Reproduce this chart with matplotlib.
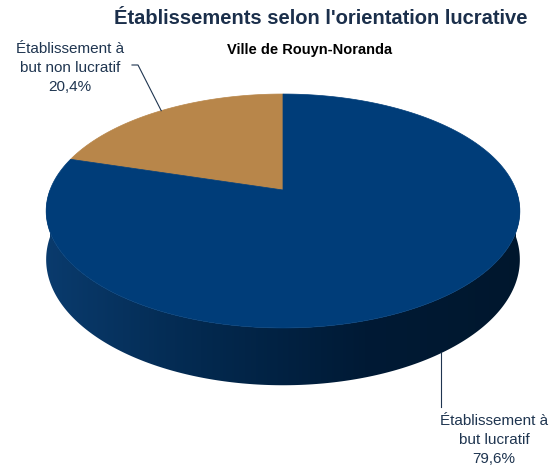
import numpy as np
import matplotlib
matplotlib.use("Agg")
import matplotlib.pyplot as plt
from matplotlib.colors import LinearSegmentedColormap
from matplotlib.patches import Polygon

# data
labels = ["Établissement à\nbut non lucratif", "Établissement à\nbut lucratif"]
shares = [20.4, 79.6]
top_colors = ["#b8864a", "#003d79"]
title = "Établissements selon l'orientation lucrative"
subtitle = "Ville de Rouyn-Noranda"

# 3d pie geometry (pixels), perspective like excel
CX, CY = 283, 190
SX, SY, K = 233, 113.2, 0.1795
DEPTH = 47
START = 90

def proj(phi, z=0.0):
    r = np.radians(phi)
    u, v = np.cos(r), np.sin(r)
    w = 1 + K * v
    return CX + SX * u / w, CY - SY * v / w + DEPTH * z / w

fig = plt.figure(figsize=(5.56, 4.71), dpi=100)
ax = fig.add_axes([0, 0, 1, 1])
ax.set_xlim(0, 556)
ax.set_ylim(471, 0)
ax.axis("off")

# side of the cake (front half only is visible), gradient clipped to outline
side = LinearSegmentedColormap.from_list("side", ["#0a3c6f", "#03294f", "#001a35", "#00172d"])
phis = np.linspace(180, 360, 241)
edge_top = [proj(p) for p in phis]
edge_bot = [proj(p, 1) for p in phis[::-1]]
side_poly = Polygon(edge_top + edge_bot, closed=True, facecolor="none", edgecolor="none")
ax.add_patch(side_poly)
grad = np.linspace(0, 1, 256).reshape(1, -1)
im = ax.imshow(grad, cmap=side, aspect="auto", interpolation="bilinear",
               extent=(CX - SX - 15, CX + SX + 15, 400, 150))
im.set_clip_path(side_poly)
ax.set_xlim(0, 556)
ax.set_ylim(471, 0)

# top face
angles = START + np.cumsum([0] + [s / sum(shares) * 360 for s in shares])
for i in range(len(shares)):
    arc = np.linspace(angles[i], angles[i + 1], 200)
    pts = [(CX, CY)] + [proj(a) for a in arc]
    ax.add_patch(Polygon(pts, closed=True, facecolor=top_colors[i], edgecolor=top_colors[i], lw=0.5))

# labels
txt_col = "#1f3550"
fnt = "Liberation Sans"
mids = (angles[:-1] + angles[1:]) / 2
pct = [f"{s:.1f}".replace(".", ",") + "%" for s in shares]

# non lucratif label, upper left
x0, y0 = proj(mids[0])
ax.plot([132, 138, x0], [65, 65, y0], color=txt_col, lw=0.8)
ax.text(70, 68, labels[0] + "\n" + pct[0], ha="center", va="center",
        fontsize=11, family=fnt, color=txt_col, linespacing=1.42)

# lucratif label, lower right
x1, y1 = proj(mids[1], 1)
x1 -= 5
ax.plot([x1, x1], [y1 + 2, 407], color=txt_col, lw=0.8)
ax.text(494, 440, labels[1] + "\n" + pct[1], ha="center", va="center",
        fontsize=11, family=fnt, color=txt_col, linespacing=1.42)

ax.text(321, 18, title, ha="center", va="center", fontsize=14.5,
        fontweight="bold", family=fnt, color="#1b2f4b")
ax.text(310, 50, subtitle, ha="center", va="center", fontsize=10.5,
        fontweight="bold", family=fnt, color="black")

fig.savefig("out.png", dpi=100)
